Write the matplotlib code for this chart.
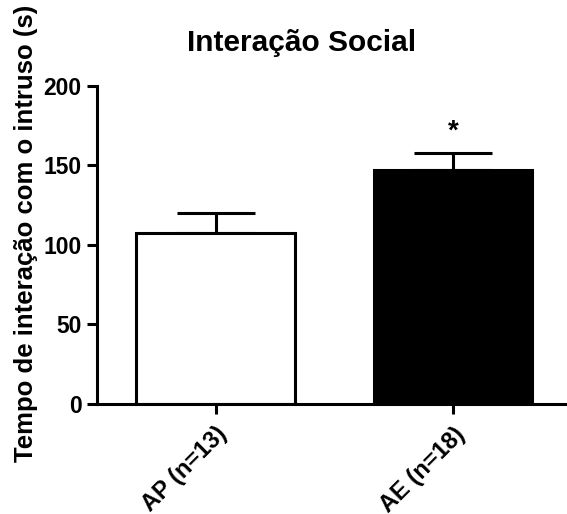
import matplotlib.pyplot as plt
import numpy as np

plt.rcParams['font.family'] = ['Liberation Sans', 'DejaVu Sans']
plt.rcParams['font.weight'] = 'bold'

groups = ['AP (n=13)', 'AE (n=18)']
means = [107.5, 147]
errors = [12.5, 11]
colors = ['white', 'black']

fig = plt.figure(figsize=(5.67, 5.14), dpi=100)
ax = fig.add_axes([0.171, 0.214, 0.829, 0.619])

x = np.arange(len(groups))
lw = 2.2
ax.bar(x, means, width=0.667, color=colors, edgecolor='black', linewidth=lw, zorder=2)
ax.errorbar(x, means, yerr=[[0, 0], errors], fmt='none', ecolor='black',
            elinewidth=lw, capsize=28, capthick=lw, zorder=1)

ax.text(x[1], means[1] + errors[1] + 5, '*', ha='center', va='bottom',
        fontsize=20, fontweight='bold')

ax.set_xlim(-0.5, 1.48)
ax.set_ylim(0, 200)
ax.set_yticks([0, 50, 100, 150, 200])
ax.set_xticks(x)
ax.set_xticklabels(groups, rotation=45, ha='right', rotation_mode='anchor')

for side in ['top', 'right']:
    ax.spines[side].set_visible(False)
for side in ['left', 'bottom']:
    ax.spines[side].set_linewidth(lw)
ax.tick_params(width=lw, length=7.5, labelsize=16.5, direction='out')
ax.tick_params(axis='x', labelsize=17, pad=6)

fig.text(26 / 567, 1 - 233 / 514, 'Tempo de interação com o intruso (s)', rotation=90,
         ha='center', va='center', fontsize=18.5, fontweight='bold')
fig.text(302 / 567, 1 - 43 / 514, 'Interação Social', ha='center', va='center',
         fontsize=21.5, fontweight='bold')

fig.savefig('out.png', dpi=100)
